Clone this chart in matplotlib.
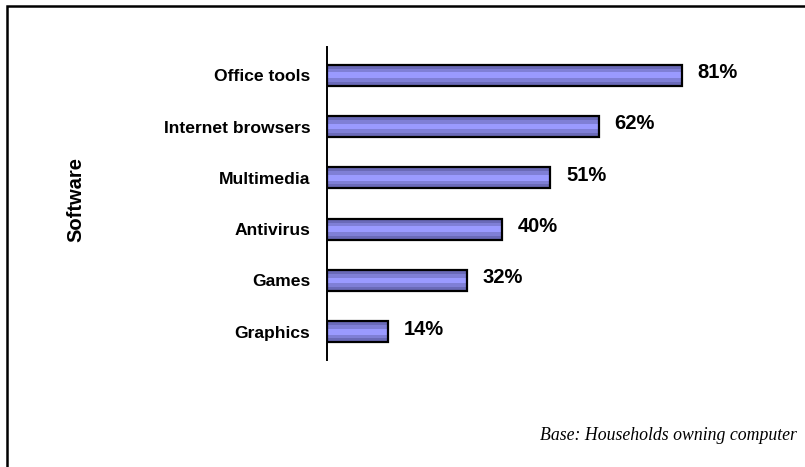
import matplotlib
matplotlib.use("Agg")
import matplotlib.pyplot as plt
from matplotlib.patches import Rectangle

categories = ["Office tools", "Internet browsers", "Multimedia", "Antivirus", "Games", "Graphics"]
shares = [81, 62, 51, 40, 32, 14]
value_labels = ["81%", "62%", "51%", "40%", "32%", "14%"]

W, H = 805, 467
fig = plt.figure(figsize=(W / 100, H / 100), dpi=100)

# outer frame (runs off the right and bottom edges)
fig.patches.append(Rectangle((7 / W, -0.05), 1.1, (H - 6) / H + 0.05, transform=fig.transFigure,
                             fill=False, edgecolor="black", linewidth=1.8))

ax = fig.add_axes([327 / W, 1 - 360 / H, (765 - 327) / W, (360 - 47) / H])
y = list(range(len(categories)))
h = 0.41

# striped bars: dark edge bands, lighter middle
ax.barh(y, shares, height=h, color="#6a6ab8", edgecolor="none", zorder=2)
ax.barh(y, shares, height=h * 0.62, color="#7f7fd6", edgecolor="none", zorder=3)
ax.barh(y, shares, height=h * 0.28, color="#9a9aff", edgecolor="none", zorder=4)
ax.barh(y, shares, height=h, fill=False, edgecolor="black", linewidth=1.6, zorder=5)

for yi, v, lab in zip(y, shares, value_labels):
    ax.text(v + 3.6, yi - 0.05, lab, va="center", ha="left", fontsize=14.5,
            fontweight="bold", family="Liberation Sans")

ax.set_xlim(0, 100)
ax.set_ylim(len(categories) - 0.45, -0.55)
ax.set_yticks(y)
ax.set_yticklabels(categories, fontsize=12.6, fontweight="bold", family="Liberation Sans")
ax.tick_params(axis="y", length=0, pad=12)
ax.set_xticks([])
for s in ["top", "right", "bottom"]:
    ax.spines[s].set_visible(False)
ax.spines["left"].set_linewidth(1.4)

fig.text(76 / W, 1 - 199 / H, "Software", rotation=90, va="center", ha="center",
         fontsize=14.5, fontweight="bold", family="Liberation Sans")

fig.text(797 / W, 1 - 436 / H, "Base: Households owning computer", ha="right", va="center",
         fontsize=12.8, style="italic", family="Liberation Serif")

fig.savefig("out.png", dpi=100)
